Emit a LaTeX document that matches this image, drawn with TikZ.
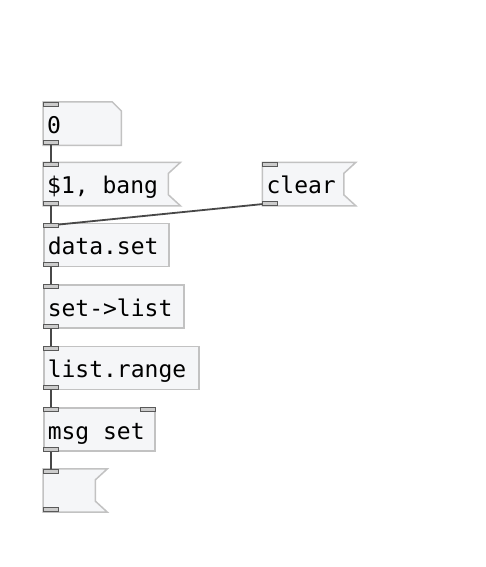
\documentclass[tikz,border=0pt]{standalone}
\usepackage{fontspec}
\setmonofont{DejaVu Sans Mono}
\usetikzlibrary{positioning, backgrounds}
\definecolor{kasten}{HTML}{F5F6F8}
\definecolor{rand}{HTML}{C2C2C2}
\definecolor{kabel}{HTML}{484848}
\newcommand{\pdschrift}{\ttfamily\fontsize{23}{28}\selectfont}
\tikzset{objekt/.style={rectangle,anchor=north west,minimum height=43pt,inner xsep=4pt,inner ysep=0pt,
		text height=21pt,text depth=2pt,font=\pdschrift,execute at begin node={\spaceskip .602em\relax}},
	kiste/.style={objekt,fill=kasten,draw=rand,line width=1.5pt},
	loch/.style={rectangle,draw=black!65,fill=gray!40,line width=1pt,minimum width=15pt,minimum height=4pt,inner sep=0pt},
	leitung/.style={draw=kabel,line width=1.8pt},
	rahmen/.style={fill=kasten,draw=rand,line width=1.5pt} }

\begin{document}
\begin{tikzpicture}[x=1pt,y=1pt]
	\useasboundingbox (0,0) rectangle (486,-567);

	\node (zahl) [objekt, text width=70pt] at (43,-102) {0};
	\node (bang) [objekt, text width=129pt, below right=17pt and 0pt of zahl.south west] {\$1, bang};
	\node (clear) [objekt, text width=85pt, right=82pt of bang.north east, anchor=north west] {clear};
	\node (daten) [kiste, text width=117pt, below right=17pt and 0pt of bang.south west] {data.set};
	\node (liste) [kiste, text width=132pt, below right=17pt and 0pt of daten.south west] {set->list};
	\node (bereich) [kiste, text width=147pt, below right=17pt and 0pt of liste.south west] {list.range};
	\node (msg) [kiste, text width=103pt, below right=17pt and 0pt of bereich.south west] {msg set};
	\node (leer) [objekt, text width=56pt, below right=17pt and 0pt of msg.south west] {};

	% ein- und auslaesse
	\foreach \n in {zahl, bang, clear, daten, liste, bereich, msg, leer} {
		\node (\n-ein) [loch, anchor=north west] at (\n.north west) {};
		\node (\n-aus) [loch, anchor=south west] at (\n.south west) {};
	}
	\node (msg-ein2) [loch, anchor=north east] at (msg.north east) {};

	\draw[leitung] (zahl-aus) -- (bang-ein);
	\draw[leitung] (bang-aus) -- (daten-ein);
	\draw[leitung] (clear-aus) -- (daten-ein);
	\draw[leitung] (daten-aus) -- (liste-ein);
	\draw[leitung] (liste-aus) -- (bereich-ein);
	\draw[leitung] (bereich-aus) -- (msg-ein);
	\draw[leitung] (msg-aus) -- (leer-ein);

	\begin{pgfonlayer}{background}
		\filldraw[rahmen] (zahl.north west) -- ([xshift=-9pt]zahl.north east) -- ([yshift=-9pt]zahl.north east)
			-- (zahl.south east) -- (zahl.south west) -- cycle;
		\foreach \n in {bang, clear, leer}
			\filldraw[rahmen] (\n.north west) -- (\n.north east) -- ([xshift=-12pt,yshift=-11pt]\n.north east)
				-- ([xshift=-12pt,yshift=11pt]\n.south east) -- (\n.south east) -- (\n.south west) -- cycle;
	\end{pgfonlayer}
\end{tikzpicture}
\end{document}
